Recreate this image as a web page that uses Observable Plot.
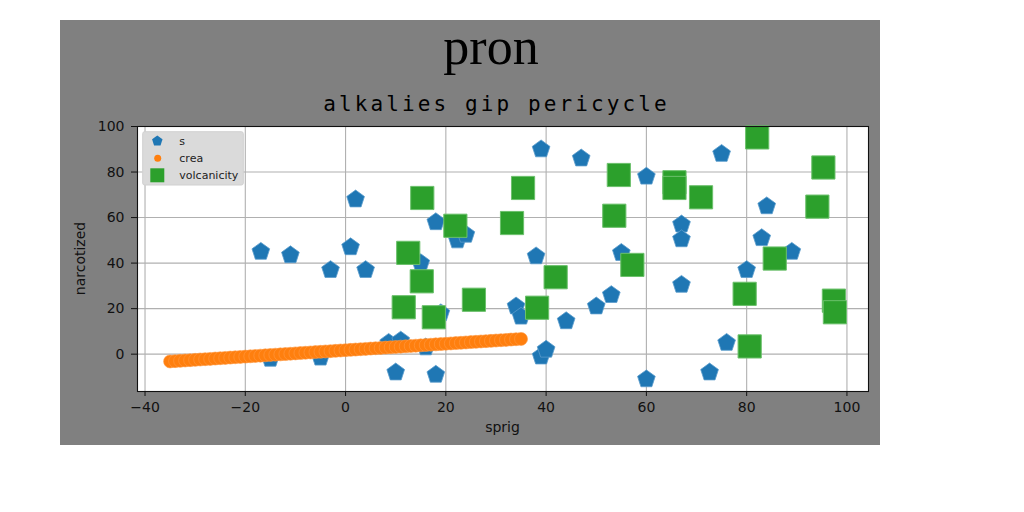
<!DOCTYPE html>
<html>
<head>
<meta charset="utf-8">
<script src="https://cdn.jsdelivr.net/npm/d3@7"></script>
<script src="https://cdn.jsdelivr.net/npm/@observablehq/plot@0.6"></script>
<style>
  html, body { margin: 0; padding: 0; background: #ffffff; width: 1024px; height: 512px; overflow: hidden; }
  #panel { position: absolute; left: 60px; top: 20px; width: 820px; height: 425px; background: #808080; }
  #panel svg { position: absolute; left: 0; top: 0; }
  #overlay { pointer-events: none; overflow: visible; }
</style>
</head>
<body>
<div id="panel"></div>
<script>
// ---- data ----
const seriesNames = ["s", "crea", "volcanicity"];
const seriesColors = ["#1f77b4", "#ff7f0e", "#2ca02c"];

const sX = [-16.9, -11, -3, 2, 1, 4, -15, -5, 10, 8.6, 11, 16, 15, 18, 22.3, 24, 18, 19, 34, 35, 39, 47, 38, 39, 40, 44, 50, 53, 55, 60, 60, 67, 67, 67, 75, 76, 72.6, 80, 83, 84, 89];
const sY = [45, 43.5, 37, 68, 47, 37, -2, -1.5, -8, 5, 6, 3, 40, 58, 50, 52.5, -9, 18, 21, 16.5, 90, 86, 43, -1, 2, 14.5, 21, 26, 44.5, 78, -11, 57, 50.5, 30.5, 88, 5, -8, 37, 51, 65, 45];

const creaX = [-35, -34, -33, -32, -31, -30, -29, -28, -27, -26, -25, -24, -23, -22, -21, -20, -19, -18, -17, -16, -15, -14, -13, -12, -11, -10, -9, -8, -7, -6, -5, -4, -3, -2, -1, 0, 1, 2, 3, 4, 5, 6, 7, 8, 9, 10, 11, 12, 13, 14, 15, 16, 17, 18, 19, 20, 21, 22, 23, 24, 25, 26, 27, 28, 29, 30, 31, 32, 33, 34, 35];
const creaY = [-3.2, -3.06, -2.92, -2.77, -2.63, -2.49, -2.35, -2.21, -2.07, -1.93, -1.79, -1.64, -1.5, -1.36, -1.22, -1.08, -0.94, -0.8, -0.65, -0.51, -0.37, -0.23, -0.09, 0.05, 0.19, 0.34, 0.48, 0.62, 0.76, 0.9, 1.04, 1.18, 1.33, 1.47, 1.61, 1.75, 1.89, 2.03, 2.17, 2.32, 2.46, 2.6, 2.74, 2.88, 3.02, 3.16, 3.31, 3.45, 3.59, 3.73, 3.87, 4.01, 4.15, 4.3, 4.44, 4.58, 4.72, 4.86, 5.0, 5.14, 5.29, 5.43, 5.57, 5.71, 5.85, 5.99, 6.13, 6.27, 6.42, 6.56, 6.7];

const vX = [15.3, 35.4, 21.9, 33.2, 12.5, 54.5, 53.6, 41.9, 15.2, 11.6, 17.6, 25.6, 38.2, 82.1, 95.3, 65.6, 65.6, 70.9, 94.1, 57.2, 85.6, 79.6, 80.6, 97.4, 97.6];
const vY = [68.6, 73, 56.4, 57.6, 44.5, 78.7, 60.8, 33.8, 32, 20.6, 16.2, 23.9, 20.4, 95.2, 82, 75.5, 73, 68.9, 64.8, 39.2, 42, 26.5, 3.4, 23.5, 18.4];

const xTicks = [-40, -20, 0, 20, 40, 60, 80, 100];
const yTicks = [0, 20, 40, 60, 80, 100];

const titleText = "pron";
const subtitleText = "alkalies gip pericycle";
const xLabel = "sprig";
const yLabel = "narcotized";

// ---- tables ----
const sData = sX.map((x, i) => ({x, y: sY[i]}));
const creaData = creaX.map((x, i) => ({x, y: creaY[i]}));
const vData = vX.map((x, i) => ({x, y: vY[i]}));

// custom symbols
const pentagon = {
  draw(ctx, size) {
    const R = Math.sqrt(size / Math.PI);
    for (let i = 0; i < 5; i++) {
      const a = -Math.PI / 2 + i * 2 * Math.PI / 5;
      const px = R * Math.cos(a), py = R * Math.sin(a);
      if (i === 0) ctx.moveTo(px, py); else ctx.lineTo(px, py);
    }
    ctx.closePath();
  }
};
const squareSym = {
  draw(ctx, size) {
    const h = Math.sqrt(size / Math.PI);
    ctx.rect(-h, -h, 2 * h, 2 * h);
  }
};

const fmt = d => String(d).replace("-", "\u2212");

const chart = Plot.plot({
  width: 820,
  height: 425,
  marginTop: 106,
  marginLeft: 77,
  marginRight: 12,
  marginBottom: 54,
  style: {background: "#808080", fontFamily: "DejaVu Sans", fontSize: "14px", color: "#111"},
  x: {domain: [-41.5, 104.3]},
  y: {domain: [-16.4, 100]},
  marks: [
    Plot.frame({fill: "white", stroke: null}),
    Plot.gridX(xTicks, {stroke: "#b0b0b0", strokeOpacity: 1, strokeWidth: 1.1}),
    Plot.gridY(yTicks, {stroke: "#b0b0b0", strokeOpacity: 1, strokeWidth: 1.1}),
    Plot.dot(sData, {x: "x", y: "y", r: 9.3, symbol: pentagon, fill: seriesColors[0], stroke: "#5a9ccb", strokeWidth: 0.8}),
    Plot.dot(creaData, {x: "x", y: "y", r: 6.5, fill: seriesColors[1], stroke: "#ff9a45", strokeWidth: 0.6}),
    Plot.dot(vData, {x: "x", y: "y", r: 11.6, symbol: squareSym, fill: seriesColors[2], stroke: "#6cc06c", strokeWidth: 1}),
    Plot.frame({stroke: "#111", strokeWidth: 1.1}),
    Plot.axisX(xTicks, {tickSize: 5, tickPadding: 6, tickFormat: fmt, label: null, stroke: "#111", fill: "#111", fontSize: 14}),
    Plot.axisY(yTicks, {tickSize: 6, tickPadding: 7, tickFormat: fmt, label: null, stroke: "#111", fill: "#111", fontSize: 14})
  ]
});
document.getElementById("panel").appendChild(chart);

// ---- overlay: titles, axis labels, legend ----
const ov = d3.select("#panel").append("svg")
  .attr("id", "overlay").attr("width", 820).attr("height", 425);

ov.append("text").attr("x", 431).attr("y", 43.5).attr("text-anchor", "middle")
  .attr("font-family", "Liberation Serif").attr("font-size", 52).attr("fill", "#000").text(titleText);
ov.append("text").attr("x", 436.5).attr("y", 91).attr("text-anchor", "middle")
  .attr("font-family", "DejaVu Sans Mono").attr("font-size", 21).attr("letter-spacing", "3.1px")
  .attr("fill", "#000").text(subtitleText);
ov.append("text").attr("x", 442.5).attr("y", 412).attr("text-anchor", "middle")
  .attr("font-family", "DejaVu Sans").attr("font-size", 14).attr("fill", "#111").text(xLabel);
ov.append("text").attr("transform", "translate(25,238.5) rotate(-90)").attr("text-anchor", "middle")
  .attr("font-family", "DejaVu Sans").attr("font-size", 14).attr("fill", "#111").text(yLabel);

// legend
const lg = ov.append("g");
lg.append("rect").attr("x", 82.7).attr("y", 111.7).attr("width", 100.6).attr("height", 53.3)
  .attr("rx", 2).attr("fill", "#dadada").attr("stroke", "#d0d0d0");
const iconPent = d3.symbol(pentagon, Math.PI * 5.5 * 5.5)();
const iconSq = d3.symbol(squareSym, Math.PI * 7 * 7)();
const rowsY = [121, 138.3, 155.3];
lg.append("path").attr("d", iconPent).attr("transform", `translate(97.3,${rowsY[0]})`).attr("fill", seriesColors[0]);
lg.append("circle").attr("cx", 97.7).attr("cy", rowsY[1]).attr("r", 3.5).attr("fill", seriesColors[1]);
lg.append("path").attr("d", iconSq).attr("transform", `translate(97.3,${rowsY[2]})`).attr("fill", seriesColors[2]);
seriesNames.forEach((n, i) => {
  lg.append("text").attr("x", 119.3).attr("y", rowsY[i] + 4).attr("font-family", "DejaVu Sans")
    .attr("font-size", 11).attr("fill", "#222").text(n);
});
</script>
</body>
</html>
